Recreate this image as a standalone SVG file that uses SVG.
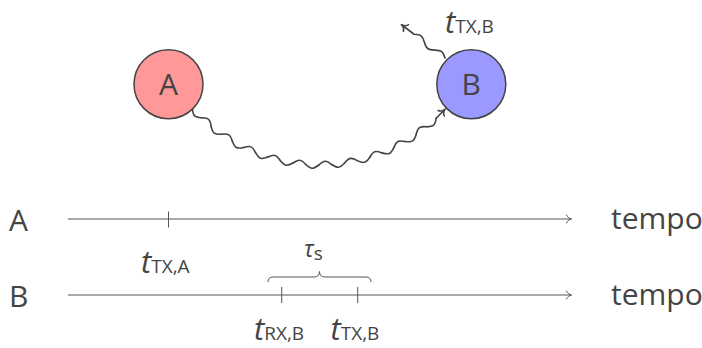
<svg xmlns="http://www.w3.org/2000/svg" width="702" height="348" viewBox="0 0 702 348">
<style>
  text { font-family: "Open Sans", "Noto Sans", "DejaVu Sans", sans-serif; fill: #444; }
  .lbl { font-size: 30px; }
  .it { font-style: italic; font-size: 31px; }
  .sub { font-size: 19px; }
  .node circle { stroke: #444; stroke-width: 1.5; }
  .wave { fill: none; stroke: #444; stroke-width: 1.6; stroke-linecap: round; stroke-linejoin: round; }
  .axis { fill: none; stroke: #555; stroke-width: 1; }
</style>
<defs>
  <marker id="to" viewBox="-7 -6 9 12" refX="0" refY="0" markerWidth="9" markerHeight="12" orient="auto" markerUnits="userSpaceOnUse">
    <path d="M-5,-4.2 C-4.2,-1.7 -1.5,-0.4 0,0 C-1.5,0.4 -4.2,1.7 -5,4.2" fill="none" stroke="#444" stroke-width="1.5" stroke-linecap="round"/>
  </marker>
  <marker id="to2" viewBox="-7 -6 9 12" refX="0" refY="0" markerWidth="9" markerHeight="12" orient="auto" markerUnits="userSpaceOnUse">
    <path d="M-5,-4 C-4.2,-1.6 -1.5,-0.4 0,0 C-1.5,0.4 -4.2,1.6 -5,4" fill="none" stroke="#555" stroke-width="1" stroke-linecap="round"/>
  </marker>
  <path id="wo" d="M312.5235,164.877 C318.0221,169.544 319.9779,169.544 325.4765,164.877"/>
  <path id="wi" d="M312.5235,164.877 C318.0221,160.210 319.9779,160.210 325.4765,164.877"/>
</defs>

<g id="connectors">
  <g class="wave">
    <use href="#wo" transform="rotate(45.927 319 -5)"/>
    <use href="#wi" transform="rotate(41.560 319 -5)"/>
    <use href="#wo" transform="rotate(37.193 319 -5)"/>
    <use href="#wi" transform="rotate(32.827 319 -5)"/>
    <use href="#wo" transform="rotate(28.460 319 -5)"/>
    <use href="#wi" transform="rotate(24.093 319 -5)"/>
    <use href="#wo" transform="rotate(19.727 319 -5)"/>
    <use href="#wi" transform="rotate(15.360 319 -5)"/>
    <use href="#wo" transform="rotate(10.993 319 -5)"/>
    <use href="#wi" transform="rotate(6.627 319 -5)"/>
    <use href="#wo" transform="rotate(2.260 319 -5)"/>
    <use href="#wi" transform="rotate(-2.107 319 -5)"/>
    <use href="#wo" transform="rotate(-6.473 319 -5)"/>
    <use href="#wi" transform="rotate(-10.840 319 -5)"/>
    <use href="#wo" transform="rotate(-15.207 319 -5)"/>
    <use href="#wi" transform="rotate(-19.573 319 -5)"/>
    <use href="#wo" transform="rotate(-23.940 319 -5)"/>
    <use href="#wi" transform="rotate(-28.307 319 -5)"/>
    <use href="#wo" transform="rotate(-32.673 319 -5)"/>
    <use href="#wi" transform="rotate(-37.040 319 -5)"/>
    <use href="#wo" transform="rotate(-41.407 319 -5)"/>
    <path d="M436.25,118.10 A170,170 0 0 0 444.58,109.58" marker-end="url(#to)"/>
    <path d="M0,0 C5.52,4 7.48,4 13,0 C18.52,-4 20.48,-4 26,0 C31.52,4 33.48,4 39,0 L54.2,0" transform="translate(445,58) rotate(-142.5)" marker-end="url(#to)"/>
  </g>
  <g id="timeline-A">
    <path class="axis" d="M68,219 L571.5,219" marker-end="url(#to2)"/>
    <path class="axis" d="M168.5,211.5 V227.5"/>
  </g>
  <g id="timeline-B">
    <path class="axis" d="M68,295 L571.5,295" marker-end="url(#to2)"/>
    <path class="axis" d="M281.7,287 V303 M357.7,287 V303"/>
    <path class="axis" d="M268,282 Q268,277 273,277 L314,277 Q319.5,277 319.5,271.5 Q319.5,277 325,277 L366,277 Q371,277 371,282"/>
  </g>
</g>

<g id="node-A" class="node">
  <circle cx="168.5" cy="84.2" r="34.5" fill="#ff9999"/>
  <text class="lbl" x="168.5" y="94.5" text-anchor="middle">A</text>
</g>
<g id="node-B" class="node">
  <circle cx="471.3" cy="84.2" r="34.5" fill="#9999ff"/>
  <text class="lbl" x="471.3" y="94.5" text-anchor="middle">B</text>
</g>

<g id="labels">
  <text x="445" y="33"><tspan class="it">t</tspan><tspan class="sub">TX,B</tspan></text>
  <text class="lbl" x="9" y="231">A</text>
  <text class="lbl" x="9" y="307">B</text>
  <text class="lbl" x="611" y="228.5">tempo</text>
  <text class="lbl" x="611" y="305">tempo</text>
  <text x="141" y="272.5"><tspan class="it">t</tspan><tspan class="sub">TX,A</tspan></text>
  <text x="304" y="257"><tspan font-style="italic" font-size="23">τ</tspan><tspan class="sub" dy="3">s</tspan></text>
  <text x="254" y="340"><tspan class="it">t</tspan><tspan class="sub">RX,B</tspan></text>
  <text x="330.5" y="340"><tspan class="it">t</tspan><tspan class="sub">TX,B</tspan></text>
</g>
</svg>
